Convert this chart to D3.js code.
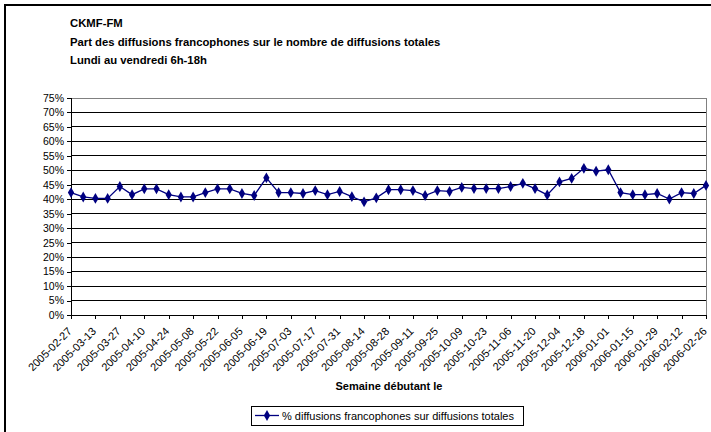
<!DOCTYPE html>
<html><head><meta charset="utf-8">
<script src="https://cdn.jsdelivr.net/npm/d3@7"></script>
<style>
body{margin:0;background:#fff;}
svg{display:block;font-family:"Liberation Sans",Arial,sans-serif;}
</style></head>
<body><svg id="c" width="711" height="432"></svg>
<script>
const titleLines = ["CKMF-FM","Part des diffusions francophones sur le nombre de diffusions totales","Lundi au vendredi 6h-18h"];
const xTitle = "Semaine débutant le";
const seriesName = "% diffusions francophones sur diffusions totales";
const weeks = ["2005-02-27","2005-03-06","2005-03-13","2005-03-20","2005-03-27","2005-04-03","2005-04-10","2005-04-17","2005-04-24","2005-05-01","2005-05-08","2005-05-15","2005-05-22","2005-05-29","2005-06-05","2005-06-12","2005-06-19","2005-06-26","2005-07-03","2005-07-10","2005-07-17","2005-07-24","2005-07-31","2005-08-07","2005-08-14","2005-08-21","2005-08-28","2005-09-04","2005-09-11","2005-09-18","2005-09-25","2005-10-02","2005-10-09","2005-10-16","2005-10-23","2005-10-30","2005-11-06","2005-11-13","2005-11-20","2005-11-27","2005-12-04","2005-12-11","2005-12-18","2005-12-25","2006-01-01","2006-01-08","2006-01-15","2006-01-22","2006-01-29","2006-02-05","2006-02-12","2006-02-19","2006-02-26"];
const values = [42.3,40.8,40.3,40.3,44.4,41.6,43.6,43.6,41.6,40.8,40.8,42.3,43.6,43.6,42.0,41.3,47.4,42.3,42.3,42.0,43.0,41.6,42.7,40.9,39.1,40.5,43.3,43.3,43.0,41.3,43.0,42.7,44.1,43.7,43.7,43.7,44.4,45.5,43.7,41.5,46.0,47.2,50.7,49.7,50.2,42.3,41.6,41.6,42.0,40.1,42.3,42.0,44.8];
const yTicks = [0,5,10,15,20,25,30,35,40,45,50,55,60,65,70,75];
const xTickLabels = weeks.filter((d,i)=>i%2===0);

const svg = d3.select("#c");
const L=71, R=706, T=98, B=315;
const x = d3.scalePoint().domain(weeks).range([L,R]).padding(0);
const y = d3.scaleLinear().domain([0,75]).range([B,T]);
const navy = "#000080";
const ff = "Liberation Sans, Arial, sans-serif";

// outer border (top & left visible)
svg.append("rect").attr("x",5).attr("y",5).attr("width",720).attr("height",440)
  .attr("fill","none").attr("stroke","#000").attr("stroke-width",2);

// titles
svg.append("g").selectAll("text").data(titleLines).join("text")
  .attr("x",70).attr("y",(d,i)=>27+i*18.5)
  .attr("font-size",11.3).attr("font-weight","bold").attr("fill","#000").text(d=>d);

// gridlines
svg.append("g").selectAll("line").data(yTicks.filter(v=>v>0)).join("line")
  .attr("x1",L).attr("x2",R).attr("y1",d=>y(d)).attr("y2",d=>y(d))
  .attr("stroke","#000").attr("stroke-width",1).attr("shape-rendering","crispEdges");

// plot border
svg.append("rect").attr("x",L).attr("y",T).attr("width",R-L).attr("height",B-T)
  .attr("fill","none").attr("stroke","#808080").attr("stroke-width",1).attr("shape-rendering","crispEdges");

// y axis
const yAxis = d3.axisLeft(y).tickValues(yTicks).tickFormat(d=>d+"%").tickSize(4).tickPadding(3);
const gy = svg.append("g").attr("transform",`translate(${L},0)`).call(yAxis);
gy.select(".domain").attr("stroke","#000").attr("shape-rendering","crispEdges");
gy.selectAll(".tick line").attr("stroke","#000").attr("shape-rendering","crispEdges");
gy.selectAll("text").attr("font-size",10.5).attr("font-family",ff).attr("fill","#000");

// x axis
const xAxis = d3.axisBottom(x).tickValues(xTickLabels).tickSize(4).tickSizeOuter(0);
const gx = svg.append("g").attr("transform",`translate(0,${B})`).call(xAxis);
gx.select(".domain").attr("stroke","#000").attr("shape-rendering","crispEdges");
gx.selectAll(".tick line").attr("stroke","#000").attr("shape-rendering","crispEdges");
gx.selectAll("text").attr("font-size",11).attr("font-family",ff).attr("fill","#000")
  .attr("text-anchor","end").attr("dy",0).attr("y",0)
  .attr("transform","translate(1,17) rotate(-45)");

// x title
svg.append("text").attr("x",389).attr("y",390).attr("text-anchor","middle")
  .attr("font-size",11).attr("font-weight","bold").text(xTitle);

// line
const line = d3.line().x((d,i)=>x(weeks[i])).y(d=>y(d));
svg.append("path").datum(values).attr("d",line).attr("fill","none").attr("stroke",navy).attr("stroke-width",1.3);
const diamond = d3.symbol().type(d3.symbolDiamond).size(34);
svg.append("g").selectAll("path").data(values).join("path")
  .attr("d",diamond).attr("transform",(d,i)=>`translate(${x(weeks[i])},${y(d)})`).attr("fill",navy);

// legend
const lg = svg.append("g");
lg.append("rect").attr("x",251).attr("y",406).attr("width",272).attr("height",19)
  .attr("fill","#fff").attr("stroke","#000").attr("stroke-width",1).attr("shape-rendering","crispEdges");
lg.append("line").attr("x1",255).attr("x2",279).attr("y1",415.5).attr("y2",415.5).attr("stroke",navy).attr("stroke-width",1.3);
lg.append("path").attr("d",diamond).attr("transform","translate(267,415.5)").attr("fill",navy);
lg.append("text").attr("x",282).attr("y",419.5).attr("font-size",11).text(seriesName);
</script></body></html>
